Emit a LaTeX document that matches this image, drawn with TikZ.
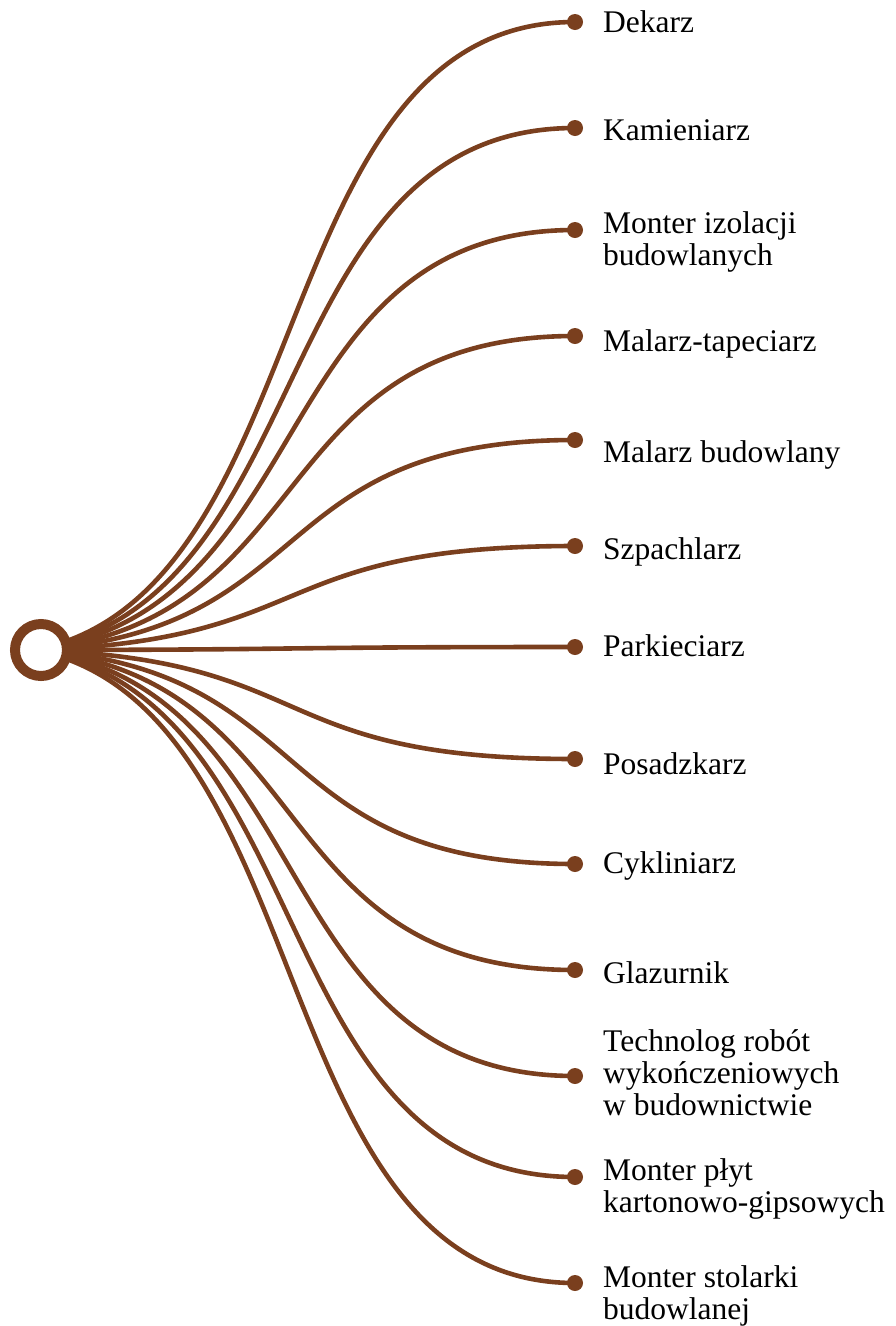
\documentclass[tikz,border=0pt]{standalone}
\usepackage{fontspec}
\setmainfont{Liberation Serif}
\usetikzlibrary{backgrounds}
\definecolor{br}{HTML}{7A3F1E}
\tikzset{
  link/.style={draw=br, line width=4.6pt},
  dotnode/.style={circle, fill=br, minimum size=16pt, inner sep=0pt},
  lbl/.style={anchor=base west, inner sep=0pt, font=\fontsize{31.5}{32}\selectfont, text=black},
  rootnode/.style={circle, draw=br, line width=10pt, fill=white, minimum size=52pt, inner sep=0pt}
}
\newcommand\lines[1]{\begin{tabular}[t]{@{}l@{}}#1\end{tabular}}
\begin{document}
\begin{tikzpicture}[x=1pt,y=-1pt]
\useasboundingbox (0,0) rectangle (896,1326);
\node[rootnode] (root) at (41,650) {};
\foreach \i/\yy in {1/22,2/128,3/230,4/336,5/440,6/546,7/647,8/759,9/864,10/970,11/1076,12/1177,13/1283}{
  \node[dotnode] (d\i) at (575,\yy) {};
  \pgfmathsetmacro\dy{0.015*(\yy-650)}
  \pgfmathsetmacro\v{0.15*(\yy-650-\dy)}
  \begin{pgfonlayer}{background}
    \draw[link] ([shift={(27,\dy)}]root.center) .. controls +(250,\v) and +(-300,0) .. (d\i.center);
  \end{pgfonlayer}
}
\node[lbl] (l1) at (603,32) {Dekarz};
\node[lbl] (l2) at (603,140) {Kamieniarz};
\node[lbl] (l3) at (603,233) {\lines{Monter izolacji\\budowlanych}};
\node[lbl] (l4) at (603,351) {Malarz-tapeciarz};
\node[lbl] (l5) at (603,462) {Malarz budowlany};
\node[lbl] (l6) at (603,559) {Szpachlarz};
\node[lbl] (l7) at (603,656) {Parkieciarz};
\node[lbl] (l8) at (603,774) {Posadzkarz};
\node[lbl] (l9) at (603,873) {Cykliniarz};
\node[lbl] (l10) at (603,983) {Glazurnik};
\node[lbl] (l11) at (603,1051) {\lines{Technolog robót\\wykończeniowych\\w budownictwie}};
\node[lbl] (l12) at (603,1180) {\lines{Monter płyt\\kartonowo-gipsowych}};
\node[lbl] (l13) at (603,1287) {\lines{Monter stolarki\\budowlanej}};
\end{tikzpicture}
\end{document}
